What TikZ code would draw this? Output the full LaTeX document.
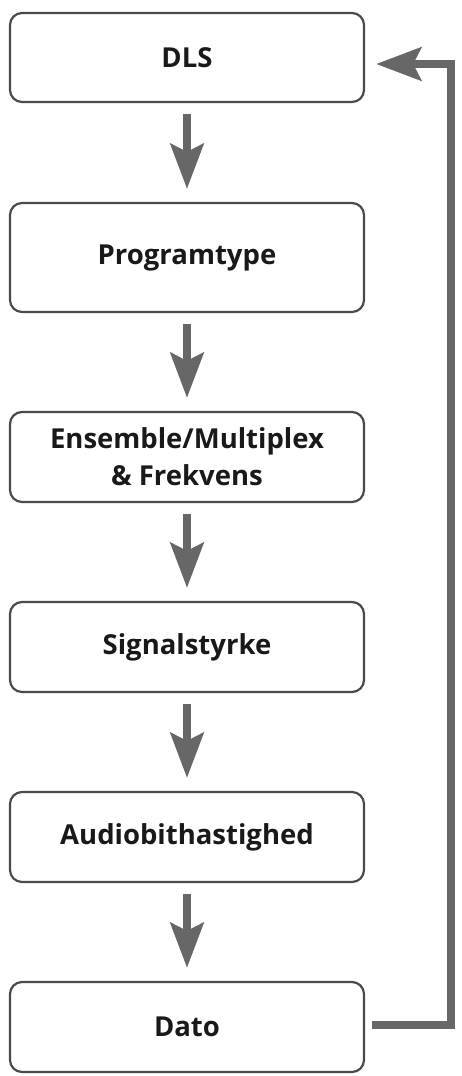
\documentclass[tikz,border=0pt]{standalone}
\usepackage{fontspec}
\setmainfont{Open Sans}
\usetikzlibrary{arrows.meta}

\definecolor{boxline}{HTML}{4A4A4A}
\definecolor{arrowgray}{HTML}{676767}

\begin{document}
\begin{tikzpicture}[x=1pt,y=-1pt]

\tikzset{stage/.style={draw=boxline,line width=2.2pt,rounded corners=12pt,minimum width=354pt,minimum height=90pt,align=center,font=\fontsize{27.5}{37}\selectfont\bfseries,text=black!90}}
\tikzset{toNext/.style={-{Stealth[length=45pt,width=33pt,inset=8pt]},line width=8pt,draw=arrowgray,shorten <=11pt,shorten >=13pt}}
\tikzset{toBack/.style={-{Stealth[length=45pt,width=33pt,inset=8pt]},line width=8pt,draw=arrowgray,line join=miter,shorten >=11pt}}

\useasboundingbox (0,0) rectangle (462,1076);

\node[stage,minimum height=89pt] (dls) at (187,57.5) {DLS};
\node[stage,minimum height=109pt] (prog) at (187,257.5) {Programtype};
\node[stage] (ens) at (187,457) {Ensemble/Multiplex\\\& Frekvens};
\node[stage] (sig) at (187,647) {Signalstyrke};
\node[stage] (audio) at (187,837) {Audiobithastighed};
\node[stage] (dato) at (187,1027) {Dato};

\draw[toNext] (dls) -- (prog);
\draw[toNext] (prog) -- (ens);
\draw[toNext] (ens) -- (sig);
\draw[toNext] (sig) -- (audio);
\draw[toNext] (audio) -- (dato);

% feedback loop on the right
\coordinate (turnB) at (450.5,1025);
\coordinate (turnT) at (450.5,64);
\draw[toBack] ([xshift=7pt,yshift=2pt]dato.east) -- (turnB) -- (turnT) -- ([yshift=-6.5pt]dls.east);

\end{tikzpicture}
\end{document}
